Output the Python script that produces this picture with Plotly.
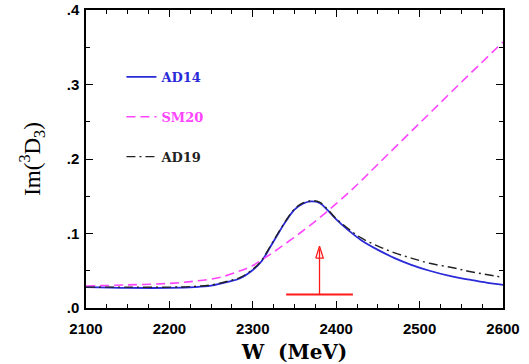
import plotly.graph_objects as go

# ---- data ----
w_ad14 = [2100, 2150, 2200, 2230, 2250, 2270, 2285, 2300, 2310, 2320, 2330, 2340, 2350,
          2360, 2370, 2380, 2390, 2400, 2415, 2430, 2450, 2470, 2490, 2512, 2540, 2560, 2580, 2600]
v_ad14 = [0.028, 0.027, 0.027, 0.028, 0.030, 0.035, 0.040, 0.051, 0.062, 0.080, 0.099, 0.117, 0.132,
          0.140, 0.143, 0.141, 0.131, 0.119, 0.104, 0.091, 0.078, 0.067, 0.058, 0.050, 0.042, 0.038, 0.034, 0.031]

w_ad19 = [2100, 2150, 2200, 2230, 2250, 2270, 2285, 2300, 2310, 2320, 2330, 2340, 2350,
          2360, 2370, 2380, 2390, 2400, 2415, 2430, 2450, 2470, 2490, 2512, 2540, 2560, 2580, 2600]
v_ad19 = [0.028, 0.028, 0.028, 0.029, 0.031, 0.036, 0.041, 0.052, 0.063, 0.081, 0.100, 0.118, 0.133,
          0.141, 0.144, 0.142, 0.132, 0.120, 0.106, 0.094, 0.083, 0.074, 0.067, 0.060, 0.054, 0.049, 0.045, 0.041]

w_sm20 = [2100, 2150, 2200, 2230, 2260, 2285, 2300, 2310, 2330, 2357, 2380, 2400, 2418,
          2432, 2450, 2500, 2550, 2600]
v_sm20 = [0.0295, 0.031, 0.033, 0.036, 0.041, 0.050, 0.057, 0.064, 0.079, 0.101, 0.121, 0.140, 0.158,
          0.173, 0.193, 0.248, 0.303, 0.357]

series_names = ["AD14", "SM20", "AD19"]

x_ticks = [2100, 2200, 2300, 2400, 2500, 2600]
y_ticks = [0.0, 0.1, 0.2, 0.3, 0.4]
y_ticklabels = [".0", ".1", ".2", ".3", ".4"]

# resonance marker (mass, width, arrow extent)
res_mass = 2380
res_half_width = 40
res_bar_y = 0.018
res_arrow_top = 0.083

# ---- figure ----
BLUE = "#2a2ad8"
MAG = "#ff44ff"
BLK = "#222222"
RED = "#ff1a1a"

fig = go.Figure()

fig.add_trace(go.Scatter(x=w_ad14, y=v_ad14, mode="lines", name=series_names[0],
                         line=dict(color=BLUE, width=1.8, shape="spline", smoothing=1.0),
                         legendgroup="a"))
fig.add_trace(go.Scatter(x=w_sm20, y=v_sm20, mode="lines", name=series_names[1],
                         line=dict(color=MAG, width=1.6, dash="9px,5px", shape="spline", smoothing=1.0),
                         legendgroup="b"))
fig.add_trace(go.Scatter(x=w_ad19, y=v_ad19, mode="lines", name=series_names[2],
                         line=dict(color=BLK, width=1.4, dash="9px,4px,2px,4px", shape="spline", smoothing=1.0),
                         legendgroup="c"))

# resonance bar and open arrow
head_w = 4.5
head_h = 0.016
fig.add_trace(go.Scatter(x=[res_mass - res_half_width, res_mass + res_half_width],
                         y=[res_bar_y, res_bar_y], mode="lines",
                         line=dict(color=RED, width=2), showlegend=False, hoverinfo="skip"))
fig.add_trace(go.Scatter(x=[res_mass, res_mass], y=[res_bar_y, res_arrow_top - 0.004], mode="lines",
                         line=dict(color=RED, width=1.3), showlegend=False, hoverinfo="skip"))
fig.add_trace(go.Scatter(x=[res_mass - head_w, res_mass, res_mass + head_w, res_mass - head_w],
                         y=[res_arrow_top - head_h, res_arrow_top, res_arrow_top - head_h, res_arrow_top - head_h],
                         mode="lines", line=dict(color=RED, width=1.3),
                         showlegend=False, hoverinfo="skip"))

tick_font = dict(family="Liberation Sans", size=15, color="black", weight="bold")

fig.update_layout(
    width=529, height=364,
    margin=dict(l=86, r=26, t=10, b=56),
    plot_bgcolor="white", paper_bgcolor="white",
    showlegend=True,
    legend=dict(x=0.085, y=0.826, xanchor="left", yanchor="top",
                bgcolor="rgba(0,0,0,0)", tracegroupgap=20,
                font=dict(family="DejaVu Serif", size=13, color="black"),
                itemwidth=30),
    xaxis=dict(range=[2100, 2600], tickvals=x_ticks, ticktext=[str(v) for v in x_ticks],
               automargin=False,
               ticks="inside", ticklen=7, tickwidth=1, tickcolor="black",
               showline=True, linecolor="black", linewidth=1.5, mirror="allticks",
               showgrid=False, zeroline=False, tickfont=tick_font, ticklabelstandoff=6,
               minor=dict(dtick=25, tick0=2100, ticks="inside", ticklen=4, tickcolor="black", showgrid=False),
               title=dict(text="<b>W  (MeV)</b>", font=dict(family="DejaVu Serif", size=20, color="black"),
                          standoff=10)),
    yaxis=dict(range=[0, 0.4], tickvals=y_ticks, ticktext=y_ticklabels,
               automargin=False,
               ticks="inside", ticklen=7, tickwidth=1, tickcolor="black",
               showline=True, linecolor="black", linewidth=1.5, mirror="allticks",
               showgrid=False, zeroline=False, tickfont=tick_font, ticklabelstandoff=2,
               minor=dict(dtick=0.05, tick0=0, ticks="inside", ticklen=4, tickcolor="black", showgrid=False),
               title=dict(text="Im(<sup>3</sup>D<sub>3</sub>)",
                          font=dict(family="Liberation Serif", size=23, color="black"), standoff=20)),
)

# colour the legend labels like the reference
for tr, col in zip(fig.data[:3], [BLUE, MAG, BLK]):
    tr.name = f"<b><span style='color:{col}'>{tr.name}</span></b>"

fig.write_html("out.html")
